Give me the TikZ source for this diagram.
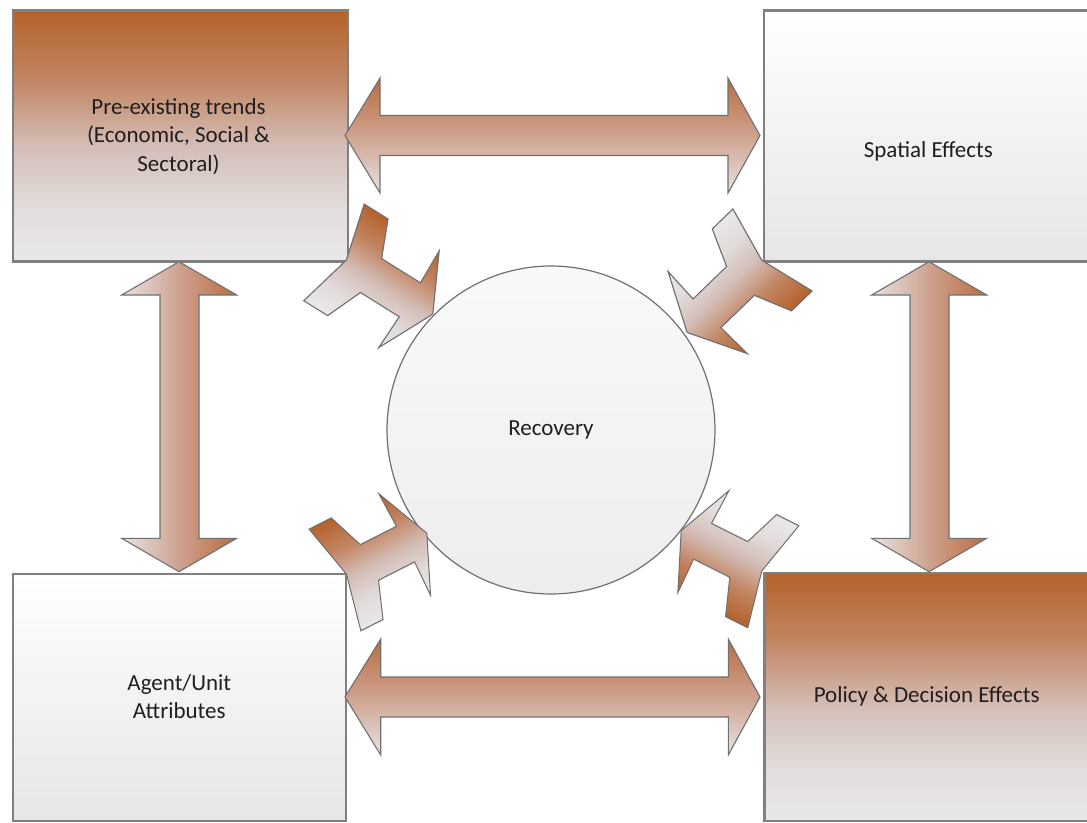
\documentclass[tikz,border=0pt]{standalone}
\usepackage{fontspec}
\setmainfont{Carlito}
\definecolor{rust}{RGB}{180,98,42}
\definecolor{rustmid}{RGB}{194,134,100}
\definecolor{blush}{RGB}{212,190,183}
\definecolor{paleA}{RGB}{234,232,232}
\definecolor{paleC}{RGB}{226,220,219}
\definecolor{paleB}{RGB}{230,230,230}
\definecolor{arrowtop}{RGB}{186,108,64}
\definecolor{arrowmid}{RGB}{206,162,143}
\definecolor{arrowlow}{RGB}{232,226,226}
\definecolor{boxline}{RGB}{128,128,128}
\definecolor{arrowline}{RGB}{112,112,112}
\definecolor{ink}{RGB}{34,30,30}

% brown at the top, fading to a pale grey below the middle
% (a path is fitted to the 25bp--75bp band of the shading)
\pgfdeclareverticalshading{warmfade}{100bp}{color(0bp)=(paleA); color(25bp)=(paleA);
  color(36bp)=(paleC); color(48bp)=(blush); color(61bp)=(rustmid); color(75bp)=(rust);
  color(100bp)=(rust)}

% outline of the forked connector, drawn along +x towards the circle
\def\clamppath{(0,-57) -- (27,-57) -- (42,-20) -- (86,-20) -- (85,-57) -- (112,0)
  -- (85,57) -- (86,20) -- (42,20) -- (27,57) -- (0,57) -- (14,0) -- cycle}

\begin{document}
\begin{tikzpicture}[x=1pt,y=-1pt,
  box/.style={draw=boxline, line width=2.2pt, rectangle, inner sep=0pt, anchor=north west},
  warm/.style={shading=warmfade},
  cool/.style={top color=white, bottom color=paleB},
  hshade/.style={top color=arrowtop, bottom color=arrowlow, middle color=arrowmid},
  vshade/.style={left color=arrowlow, right color=arrowtop, middle color=arrowmid},
  blockarrow/.style={draw=arrowline, line width=1.1pt, line join=miter},
  clamp/.style={draw=arrowline, line width=1.1pt, line join=miter, shading=warmfade},
  label/.style={font=\fontsize{23}{28.5}\selectfont, text=ink, align=center, inner sep=0pt},
 ]
\useasboundingbox (0,0) rectangle (1087,822);
\clip (0,0) rectangle (1087,822);

% four corner boxes
\node[box, warm, minimum width=335pt, minimum height=251pt] (trends) at (11.5,9.3) {};
\node[box, cool, minimum width=331pt, minimum height=251pt] (spatial) at (762.7,9.3) {};
\node[box, cool, minimum width=333pt, minimum height=247pt] (agent) at (11.7,572.7) {};
\node[box, warm, minimum width=331pt, minimum height=248pt] (policy) at (763.3,571.7) {};

% double block arrows between neighbouring boxes
\path[blockarrow, hshade] (345,135.5) -- (380,78) -- (380,115.5) -- (728,115.5) -- (728,78)
  -- (760,135.5) -- (728,193) -- (728,155.5) -- (380,155.5) -- (380,193) -- cycle;
\path[blockarrow, hshade] (345,697) -- (380.7,639) -- (380.7,677) -- (728.3,677) -- (728.3,639)
  -- (760,697) -- (728.3,755) -- (728.3,717) -- (380.7,717) -- (380.7,755) -- cycle;
\path[blockarrow, vshade] (179,261.7) -- (236.7,295) -- (199,295) -- (199,538.3) -- (236.7,538.3)
  -- (179,571.7) -- (121.7,538.3) -- (160,538.3) -- (160,295) -- (121.7,295) -- cycle;
\path[blockarrow, vshade] (929,261.7) -- (986.7,295) -- (949,295) -- (949,538.3) -- (986.7,538.3)
  -- (929,571.7) -- (871.7,538.3) -- (910,538.3) -- (910,295) -- (871.7,295) -- cycle;

% central circle
\node[circle, draw=arrowline, line width=1.2pt, top color=gray!5, bottom color=gray!14,
  minimum size=328pt, inner sep=0pt] (recovery) at (551,430) {};

% forked connectors pointing at the circle
\begin{scope}[transform canvas={shift={(334,252.4)}, rotate=-32, xscale=1.04}]
  \path[clamp] \clamppath;
\end{scope}
\begin{scope}[transform canvas={shift={(772.5,250)}, rotate=-136, xscale=1.06}]
  \path[clamp] \clamppath;
\end{scope}
\begin{scope}[transform canvas={shift={(335,580)}, rotate=27, xscale=0.92}]
  \path[clamp] \clamppath;
\end{scope}
\begin{scope}[transform canvas={shift={(773.3,576.7)}, rotate=153.4, xscale=0.92}]
  \path[clamp] \clamppath;
\end{scope}

% texts
\node[label] (trendsText) at (178.5,136.5) {Pre-existing trends\\(Economic, Social \&\\Sectoral)};
\node[label] (spatialText) at (928.3,151.5) {Spatial Effects};
\node[label] (agentText) at (179.3,696.5) {Agent/Unit\\Attributes};
\node[label] (policyText) at (926.7,696.7) {Policy \& Decision Effects};
\node[label] (recoveryText) at (recovery.center) {Recovery};
\end{tikzpicture}
\end{document}
